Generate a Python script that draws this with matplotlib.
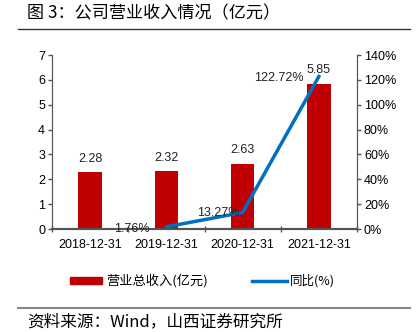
import matplotlib
matplotlib.use("Agg")
import matplotlib.pyplot as plt
from matplotlib.patches import Rectangle
from matplotlib.lines import Line2D

plt.rcParams['font.family'] = ['Liberation Sans', 'Noto Sans CJK SC', 'DejaVu Sans']

categories = ["2018-12-31", "2019-12-31", "2020-12-31", "2021-12-31"]
revenue = [2.28, 2.32, 2.63, 5.85]
yoy = [None, 1.76, 13.27, 122.72]
left_ticks = [0, 1, 2, 3, 4, 5, 6, 7]
right_ticks = [0, 20, 40, 60, 80, 100, 120, 140]

bar_color = "#C00000"
line_color = "#0070C0"

fig = plt.figure(figsize=(4.17, 3.32), dpi=100)
ax = fig.add_axes([52/417, 1-229/332, (357-52)/417, (229-55)/332])
ax2 = ax.twinx()

x = list(range(len(categories)))
ax.bar(x, revenue, width=0.31, color=bar_color, zorder=2)
for xi, v in zip(x, revenue):
    ax.text(xi, v + 0.3, f"{v:.2f}", ha='center', va='bottom', fontsize=9, color='#222222')

ax.set_xlim(-0.5, len(categories) - 0.5)
ax.set_ylim(0, 7)
ax.set_yticks(left_ticks)
ax.set_xticks([i - 0.5 for i in range(len(categories) + 1)], minor=False)
ax.set_xticklabels([])
ax.set_xticks(x, minor=True)
ax.set_xticklabels(categories, minor=True)
ax.tick_params(axis='x', which='minor', length=0, labelsize=9, pad=7)
ax.tick_params(axis='x', which='major', length=4, direction='inout', width=1, color='#555555')
ax.tick_params(axis='y', labelsize=9, length=3, width=1, color='#555555', pad=2)

lx = [i for i, v in zip(x, yoy) if v is not None]
ly = [v for v in yoy if v is not None]
ax2.plot(lx, ly, color=line_color, linewidth=2.5, zorder=3)
ax2.set_ylim(0, 140)
ax2.set_yticks(right_ticks)
ax2.set_yticklabels([f"{t}%" for t in right_ticks])
ax2.tick_params(axis='y', labelsize=9, length=3, width=1, color='#555555', pad=2)

offsets = {1: (-0.45, -2.0), 2: (-0.32, -0.3), 3: (-0.52, -1.0)}
for xi, v in zip(lx, ly):
    dx, dy = offsets[xi]
    ax2.text(xi + dx, v + dy, f"{v:.2f}%", ha='center', va='center', fontsize=9, color='#222222')

for a in (ax, ax2):
    a.spines['top'].set_visible(False)
    a.spines['left'].set_color('#555555')
    a.spines['right'].set_color('#555555')
    a.spines['bottom'].set_color('#555555')
    a.spines['bottom'].set_linewidth(1.5)

# Title and rules
fig.text(27/417, 1-13/332, "图 3：公司营业收入情况（亿元）", fontsize=12.3, va='center', ha='left',
         family=['Noto Sans CJK SC'])
fig.add_artist(Line2D([18/417, 410/417], [1-29/332, 1-29/332], color='#333333', linewidth=1))
fig.add_artist(Line2D([18/417, 410/417], [1-308/332, 1-308/332], color='#888888', linewidth=1.5))
fig.text(27/417, 2/332, "资料来源：Wind，山西证券研究所", fontsize=12, va='bottom', ha='left',
         family=['Noto Sans CJK SC'])

# Legend
fig.add_artist(Rectangle((70/417, 1-284/332), 32/417, 7/332, color=bar_color, transform=fig.transFigure))
fig.text(106/417, 1-281/332, "营业总收入(亿元)", fontsize=9.5, va='center', ha='left', family=['Noto Sans CJK SC'])
fig.add_artist(Line2D([252/417, 287/417], [1-281/332, 1-281/332], color=line_color, linewidth=2.5))
fig.text(290/417, 1-281/332, "同比(%)", fontsize=9, va='center', ha='left', family=['Noto Sans CJK SC'])

fig.savefig("out.png", dpi=100)
